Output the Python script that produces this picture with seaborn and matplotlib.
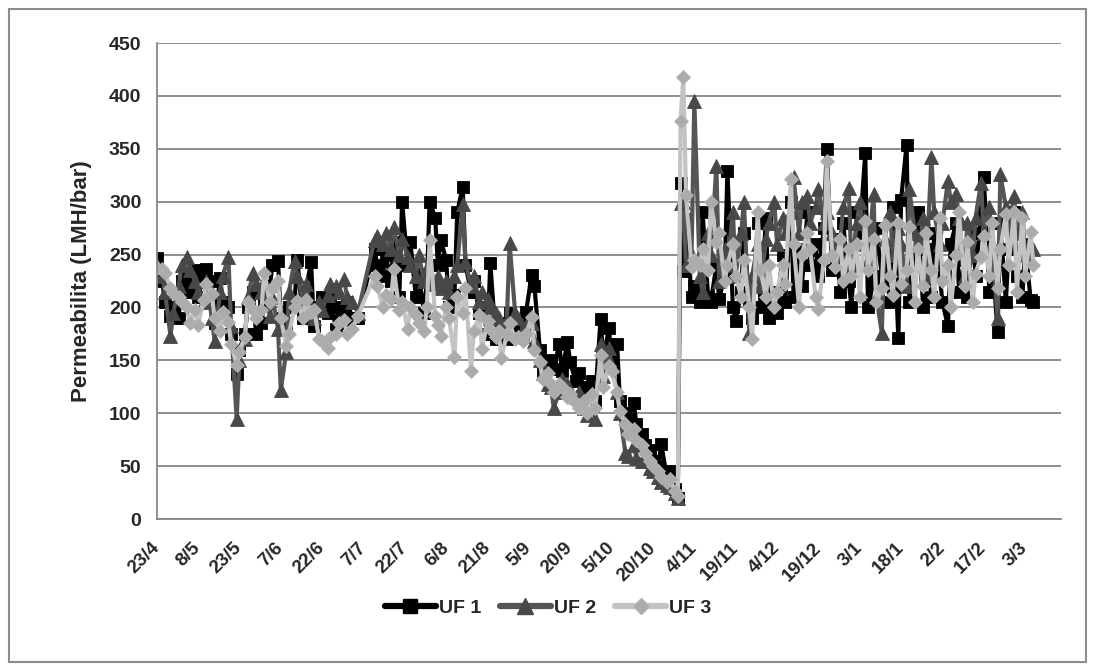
import matplotlib
matplotlib.use("Agg")
import matplotlib.pyplot as plt
import seaborn as sns
import pandas as pd
from matplotlib.patches import Rectangle
from matplotlib.lines import Line2D

sns.set_theme(style="white")
plt.rcParams['font.family'] = ['Liberation Sans', 'DejaVu Sans']

# ---- data: day offsets from 23/4 and permeability values (LMH/bar) ----
days = [0, 2, 3, 5, 6, 8, 9, 11, 12, 14, 15, 17, 18, 20, 21, 23, 24, 26, 27, 29,
        30, 32, 33, 35, 36, 38, 39, 41, 42, 44, 45, 47, 48, 50, 51, 53, 54, 56, 57, 59,
        60, 62, 63, 65, 66, 68, 69, 71, 73,
        79, 80, 82, 83, 85, 86, 88, 89, 91, 92, 94, 95, 97, 98, 99, 101, 102, 103, 105, 106,
        108, 109, 111, 112, 114, 115, 117, 118, 120, 121, 123, 124, 125, 127, 128, 130, 131, 133, 134, 136,
        137, 139, 140, 142, 143, 144, 146, 147, 149, 150, 152, 153, 155, 156, 158, 159, 161, 162, 164, 165,
        167, 168, 170, 171, 173, 174, 176, 177, 179, 180, 182, 183, 185, 186, 188, 189,
        190, 191, 192, 194, 195, 197, 198, 200, 201, 203, 204, 206, 207, 209, 210, 212, 213, 215, 216, 218,
        219, 221, 222, 224, 225, 227, 228, 230, 231, 233, 234, 236, 237, 239, 240, 242, 243, 245, 246, 248,
        249, 251, 252, 254, 255, 257, 258, 260, 261, 263, 264, 266, 267, 269, 270, 272, 273, 275, 276, 278,
        279, 281, 282, 284, 285, 287, 288, 290, 291, 293, 294, 296, 297, 299, 300, 302, 303, 305, 306, 308,
        309, 311, 312, 314, 315, 317, 318]

uf1 = [247, 225, 205, 192, 200, 190, 225, 230, 215, 235, 210, 230, 236, 225, 185, 228, 205, 200, 175, 137,
       160, 175, 200, 215, 175, 185, 205, 220, 240, 244, 190, 185, 200, 205, 245, 190, 215, 243, 182, 200,
       210, 195, 208, 180, 200, 185, 205, 190, 190,
       255, 240, 230, 250, 225, 262, 210, 300, 240, 262, 210, 232, 195, 225, 300, 285, 240, 264, 245, 200,
       212, 290, 314, 240, 215, 225, 195, 200, 175, 242, 170, 185, 180, 170, 195, 185, 178, 172, 196, 231,
       220, 160, 140, 150, 145, 142, 165, 140, 167, 148, 130, 138, 125, 120, 130, 112, 189, 150, 181, 150,
       165, 112, 100, 95, 110, 90, 80, 70, 65, 55, 50, 71, 40, 45, 28, 20,
       318, 234, 284, 210, 220, 205, 290, 210, 205, 240, 208, 230, 329, 200, 187, 215, 270, 205, 190, 280,
       200, 285, 190, 215, 195, 250, 205, 300, 210, 255, 220, 290, 240, 260, 230, 275, 350, 235, 265, 215,
       280, 225, 200, 290, 270, 346, 200, 225, 275, 230, 245, 205, 295, 171, 302, 354, 205, 245, 290, 200,
       255, 210, 270, 230, 205, 182, 260, 280, 215, 245, 210, 270, 230, 290, 323, 215, 250, 177, 280, 205,
       255, 290, 230, 210, 260, 207, 205]

uf2 = [240, 230, 215, 173, 195, 220, 240, 248, 235, 225, 215, 205, 225, 190, 168, 215, 230, 248, 182, 95,
       150, 170, 210, 233, 222, 215, 225, 192, 210, 180, 122, 158, 215, 244, 230, 208, 222, 200, 190, 205,
       198, 212, 222, 220, 215, 227, 210, 205, 195,
       264, 268, 260, 270, 255, 276, 250, 265, 248, 240, 230, 250, 225, 237, 228, 222, 230, 218, 225, 215,
       230, 240, 298, 243, 220, 230, 205, 215, 208, 200, 195, 190, 185, 188, 261, 195, 190, 180, 183, 185,
       168, 150, 138, 128, 125, 105, 120, 132, 128, 120, 115, 120, 105, 98, 108, 95, 165, 135, 162, 145,
       120, 100, 62, 60, 70, 58, 55, 55, 48, 45, 40, 35, 32, 30, 25, 20,
       299, 300, 240, 250, 395, 230, 215, 270, 250, 334, 225, 255, 240, 290, 230, 270, 300, 176, 230, 260,
       220, 265, 280, 300, 260, 285, 270, 290, 323, 270, 300, 305, 280, 295, 312, 280, 290, 270, 250, 265,
       295, 313, 240, 280, 300, 260, 245, 307, 210, 176, 265, 290, 250, 275, 260, 220, 312, 270, 240, 285,
       230, 342, 290, 260, 280, 320, 300, 307, 285, 230, 280, 250, 285, 318, 270, 295, 260, 190, 326, 295,
       275, 305, 270, 290, 250, 245, 255]

uf3 = [237, 236, 233, 218, 214, 210, 205, 200, 185, 198, 183, 207, 222, 213, 190, 178, 196, 186, 165, 146,
       158, 172, 205, 198, 190, 198, 233, 205, 218, 225, 190, 164, 175, 200, 206, 190, 207, 196, 198, 170,
       168, 162, 172, 175, 185, 188, 175, 180, 192,
       230, 220, 200, 212, 208, 236, 198, 205, 180, 200, 193, 185, 178, 200, 264, 192, 183, 173, 200, 190,
       153, 210, 195, 218, 140, 178, 193, 161, 187, 180, 172, 178, 152, 175, 185, 170, 172, 168, 175, 191,
       160, 148, 132, 138, 128, 120, 128, 125, 115, 118, 110, 105, 112, 100, 118, 105, 155, 125, 145, 140,
       120, 102, 90, 80, 85, 75, 70, 62, 55, 50, 45, 40, 35, 38, 26, 22,
       376, 418, 306, 238, 245, 240, 255, 235, 300, 262, 270, 225, 240, 260, 230, 210, 245, 200, 170, 290,
       235, 210, 240, 200, 215, 240, 222, 321, 260, 200, 250, 270, 255, 210, 199, 245, 338, 250, 238, 265,
       225, 255, 230, 260, 210, 282, 235, 265, 205, 218, 278, 230, 212, 280, 222, 235, 276, 205, 255, 220,
       270, 235, 210, 285, 225, 240, 200, 250, 290, 220, 262, 205, 232, 248, 268, 230, 280, 218, 255, 288,
       240, 290, 215, 285, 230, 271, 240]

series_names = ["UF 1", "UF 2", "UF 3"]
tick_labels = ["23/4", "8/5", "23/5", "7/6", "22/6", "7/7", "22/7", "6/8", "21/8", "5/9", "20/9",
               "5/10", "20/10", "4/11", "19/11", "4/12", "19/12", "3/1", "18/1", "2/2", "17/2", "3/3"]

assert len(days) == len(uf1) == len(uf2) == len(uf3)

df = pd.DataFrame({"day": days, "UF 1": uf1, "UF 2": uf2, "UF 3": uf3})

# ---- styles ----
styles = {
    "UF 1": dict(color="#000000", marker="s", markersize=9, mfc="#000000", mec="#000000"),
    "UF 2": dict(color="#555555", marker="^", markersize=10, mfc="#484848", mec="#484848"),
    "UF 3": dict(color="#c3c3c3", marker="D", markersize=7, mfc="#ababab", mec="#b3b3b3"),
}

W, H = 1095, 670
fig = plt.figure(figsize=(W / 100, H / 100), dpi=100)
fig.patch.set_facecolor("white")
ax = fig.add_axes([156.7 / W, 1 - 519 / H, (1061 - 156.7) / W, (519 - 43) / H])

for name in series_names:
    st = styles[name]
    sns.lineplot(data=df, x="day", y=name, ax=ax, sort=False, color=st["color"], lw=3.0,
                 marker=st["marker"], markersize=st["markersize"],
                 markerfacecolor=st["mfc"], markeredgecolor=st["mec"], markeredgewidth=0.6,
                 label=name, legend=False)

ax.set_xlim(0, 328)
ax.set_ylim(0, 450)
ax.set_yticks(range(0, 451, 50))
ax.set_xticks([15 * i for i in range(len(tick_labels))])
ax.set_xticklabels(tick_labels, rotation=45, ha="right", va="center",
                   rotation_mode="anchor", fontsize=13.5, fontweight="bold")
for lab in ax.get_yticklabels():
    lab.set_fontsize(14)
    lab.set_fontweight("bold")

ax.grid(axis="y", color="#868686", lw=1.3)
ax.grid(axis="x", visible=False)
ax.set_axisbelow(True)
for s in ["top", "right"]:
    ax.spines[s].set_visible(False)
for s in ["left", "bottom"]:
    ax.spines[s].set_color("#868686")
    ax.spines[s].set_linewidth(1.3)
ax.tick_params(axis="x", which="major", direction="out", length=8, width=1, color="#868686", pad=11)
ax.tick_params(axis="y", which="major", direction="out", length=6, width=1, color="#868686", pad=5)
ax.set_xlabel("")
ax.set_ylabel("Permeabilita (LMH/bar)", fontsize=16, fontweight="bold", labelpad=12)

handles = [Line2D([0], [0], color=styles[n]["color"], lw=4.5, marker=styles[n]["marker"],
                  markersize=styles[n]["markersize"] + 1, markerfacecolor=styles[n]["mfc"],
                  markeredgecolor=styles[n]["mec"]) for n in series_names]
fig.legend(handles, series_names, loc="center", bbox_to_anchor=(548 / W, 1 - 608 / H), ncol=3,
           frameon=False, prop={"size": 14, "weight": "bold"}, handlelength=2.6,
           handletextpad=0.15, columnspacing=1.0)

fig.patches.append(Rectangle((9 / W, 8 / H), (1086 - 9) / W, (661 - 8) / H, transform=fig.transFigure,
                             fill=False, ec="#8c8c8c", lw=1.5))

fig.savefig("out.png", dpi=100, facecolor="white")
